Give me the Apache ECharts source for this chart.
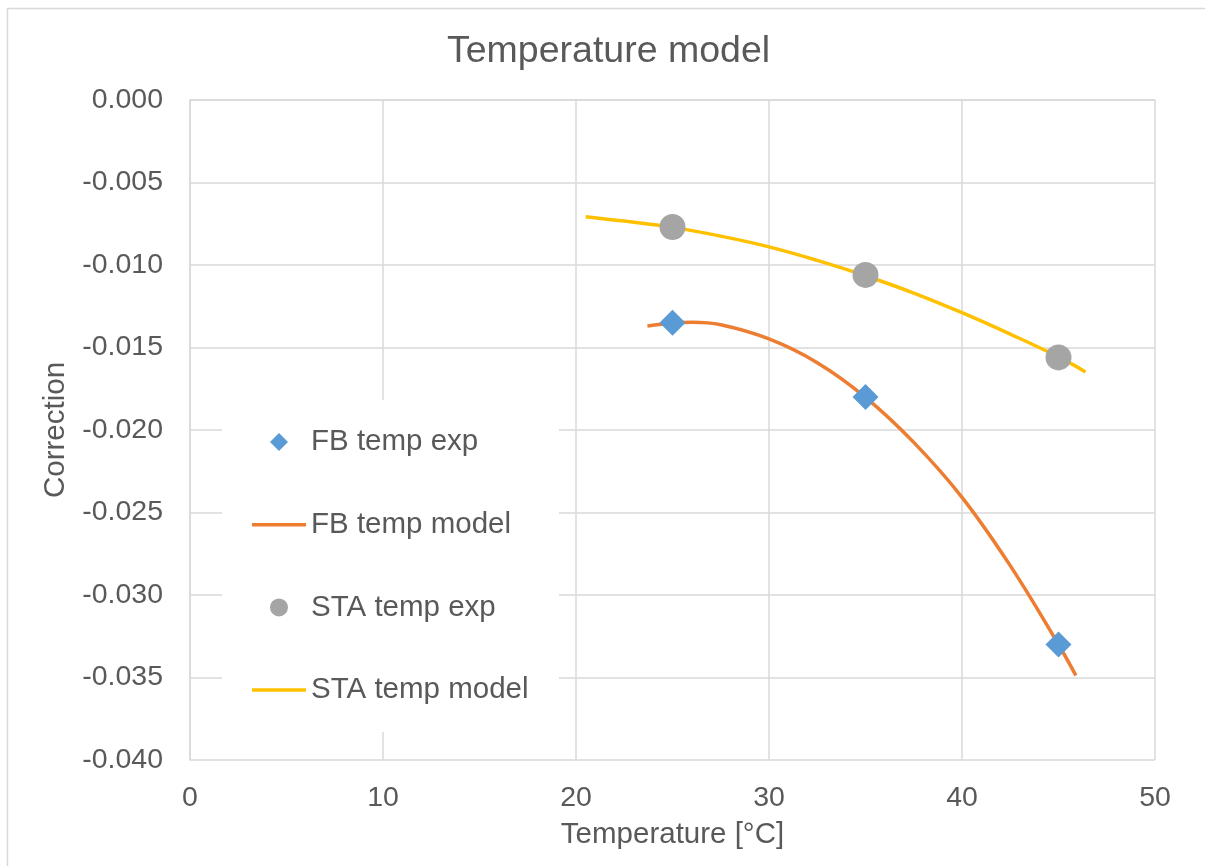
<!DOCTYPE html>
<html>
<head>
<meta charset="utf-8">
<script src="https://cdn.jsdelivr.net/npm/echarts@6/dist/echarts.min.js"></script>
<style>
  html, body { margin: 0; padding: 0; background: #fff; }
  #main { width: 1205px; height: 866px; }
</style>
</head>
<body>
<div id="main"></div>
<script>
// measured points (temperature, correction)
var expTemps = [25, 35, 45];
var fbExp = [-0.0135, -0.0180, -0.0330];
var staExp = [-0.0077, -0.0106, -0.0156];

// model curves
var fbModelT = [23.7, 25, 26, 27.5, 30, 32.5, 35, 37.5, 40, 42.5, 45, 45.9];
var fbModel = [-0.01370, -0.01352, -0.01347, -0.01362, -0.01448, -0.01592, -0.01802, -0.02075, -0.02408, -0.02822, -0.03300, -0.03488];
var staModelT = [20.5, 22.5, 25, 27.5, 30, 32.5, 35, 37.5, 40, 42.5, 45, 46.4];
var staModel = [-0.00707, -0.00734, -0.00772, -0.00825, -0.00890, -0.00972, -0.01065, -0.01170, -0.01289, -0.01419, -0.01557, -0.01648];

var xTicks = [0, 10, 20, 30, 40, 50];

function pairs(xs, ys) {
    var out = [];
    for (var i = 0; i < xs.length; i++) out.push([xs[i], ys[i]]);
    return out;
}

var textColor = '#595959';
var gridColor = '#D9D9D9';
var font = 'Liberation Sans, Arial, sans-serif';
// legend icons (paths keep their aspect)
var lineIcon = 'path://M0,0L54,0L54,3.5L0,3.5Z';
var diamondIcon = 'path://M9,0L18,9L9,18L0,9Z';

var chart = echarts.init(document.getElementById('main'));
var option = {
    backgroundColor: '#fff',
    animation: false,
    title: {
        text: 'Temperature model',
        left: 442,
        top: 28,
        textStyle: { color: textColor, fontSize: 37.5, fontWeight: 'normal', fontFamily: font }
    },
    graphic: [
        {
            type: 'rect',
            z: 0,
            shape: { x: 7.5, y: 8.5, width: 1220, height: 880 },
            style: { fill: 'none', stroke: gridColor, lineWidth: 1.5 }
        },
        {
            type: 'rect',
            z: 1,
            shape: { x: 222, y: 400, width: 337, height: 332 },
            style: { fill: '#fff' }
        }
    ],
    legend: {
        orient: 'vertical',
        left: 252,
        top: 427,
        padding: 0,
        itemWidth: 54,
        itemHeight: 18,
        itemGap: 52.7,
        symbolKeepAspect: true,
        z: 5,
        textStyle: { color: textColor, fontSize: 29.5, lineHeight: 30, fontFamily: font },
        data: [
            { name: 'FB temp exp', icon: diamondIcon },
            { name: 'FB temp model', icon: lineIcon },
            { name: 'STA temp exp', icon: 'circle' },
            { name: 'STA temp model', icon: lineIcon }
        ]
    },
    grid: { left: 190, top: 100, right: 50, bottom: 106 },
    xAxis: {
        type: 'value',
        min: xTicks[0],
        max: xTicks[xTicks.length - 1],
        interval: 10,
        name: 'Temperature [°C]',
        nameLocation: 'middle',
        nameGap: 60,
        nameTextStyle: { color: textColor, fontSize: 29.5, fontFamily: font },
        axisLine: { show: true, lineStyle: { color: gridColor, width: 1.5 } },
        axisTick: { show: false },
        axisLabel: { color: textColor, fontSize: 28.5, margin: 24, fontFamily: font },
        splitLine: { show: true, lineStyle: { color: gridColor, width: 1.5 } }
    },
    yAxis: {
        type: 'value',
        min: -0.04,
        max: 0,
        interval: 0.005,
        name: 'Correction',
        nameLocation: 'middle',
        nameGap: 118,
        nameTextStyle: { color: textColor, fontSize: 29.5, fontFamily: font },
        axisLine: { show: true, lineStyle: { color: gridColor, width: 1.5 } },
        axisTick: { show: false },
        axisLabel: {
            color: textColor, fontSize: 28.5, margin: 27, fontFamily: font,
            formatter: function (v) { return v.toFixed(3); }
        },
        splitLine: { show: true, lineStyle: { color: gridColor, width: 1.5 } }
    },
    series: [
        {
            name: 'FB temp exp',
            type: 'scatter',
            symbol: 'diamond',
            symbolSize: 26,
            z: 4,
            itemStyle: { color: '#5B9BD5', opacity: 1 },
            data: pairs(expTemps, fbExp)
        },
        {
            name: 'FB temp model',
            type: 'line',
            symbol: 'none',
            smooth: 0.4,
            z: 3,
            itemStyle: { color: '#ED7D31' },
            lineStyle: { color: '#ED7D31', width: 3.5 },
            data: pairs(fbModelT, fbModel)
        },
        {
            name: 'STA temp exp',
            type: 'scatter',
            symbol: 'circle',
            symbolSize: 26,
            z: 4,
            itemStyle: { color: '#A5A5A5', opacity: 1 },
            data: pairs(expTemps, staExp)
        },
        {
            name: 'STA temp model',
            type: 'line',
            symbol: 'none',
            smooth: 0.4,
            z: 3,
            itemStyle: { color: '#FFC000' },
            lineStyle: { color: '#FFC000', width: 3.5 },
            data: pairs(staModelT, staModel)
        }
    ]
};
chart.setOption(option);
</script>
</body>
</html>
